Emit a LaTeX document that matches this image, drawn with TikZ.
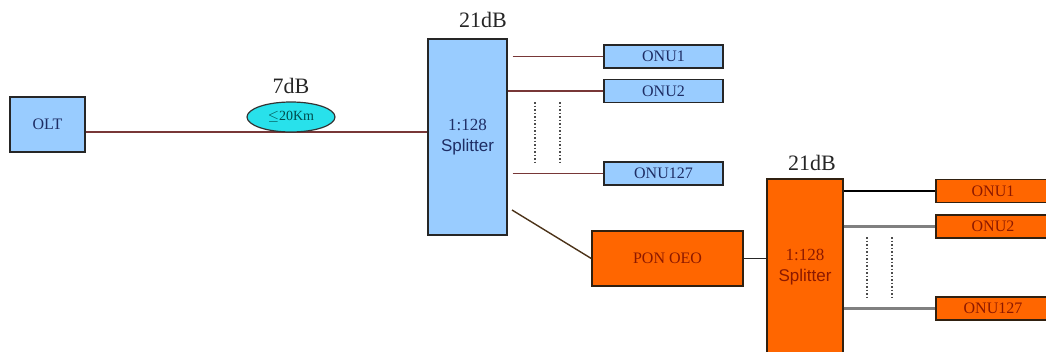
\documentclass[tikz,border=0pt]{standalone}
\usepackage{fontspec}
\setmainfont{Liberation Serif}
\setsansfont{Liberation Sans}
\usepackage{tikz}
\usetikzlibrary{positioning,shapes.geometric,calc}

\definecolor{boxblue}{RGB}{153,204,255}
\definecolor{txtblue}{RGB}{30,45,100}
\definecolor{boxorange}{RGB}{255,102,0}
\definecolor{txtred}{RGB}{140,25,0}
\definecolor{fibre}{RGB}{120,55,55}
\definecolor{cyanlink}{RGB}{40,225,235}

\tikzset{
  bluebox/.style={draw=black!85,line width=1.4pt,fill=boxblue,text=txtblue,inner sep=0pt},
  orgbox/.style={draw=black!75!brown,line width=1.4pt,fill=boxorange,text=txtred,inner sep=0pt},
  onutxt/.style={font=\fontsize{16}{17}\selectfont},
  spltxt/.style={align=center,font=\fontsize{17}{21}\selectfont},
  link/.style={draw=fibre,line width=1.6pt},
  graylink/.style={draw=gray,line width=2.2pt},
  gain/.style={font=\fontsize{22}{24}\selectfont,text=black!85},
  pointilles/.style={dotted,line width=1.5pt,black!70}
}

\begin{document}
\begin{tikzpicture}[x=1pt,y=-1pt]
    \useasboundingbox (0,0) rectangle (1046,351);

    % OLT
    \node[bluebox,minimum width=75pt,minimum height=55pt,onutxt] (olt) at (47.5,124.5) {OLT};

    % Premier coupleur
    \node[bluebox,minimum width=79pt,minimum height=196pt,spltxt] (spl1) at (467.5,137)
        {1:128\\\sffamily Splitter};
    \node[gain] (g1) at (483,20) {21dB};

    % ONU bleus
    \node[bluebox,minimum width=119pt,minimum height=23pt,onutxt] (onuA1) at (663.5,56.5) {ONU1};
    \node[bluebox,minimum width=119pt,minimum height=23pt,onutxt] (onuA2) at (663.5,91) {ONU2};
    \node[bluebox,minimum width=119pt,minimum height=23pt,onutxt] (onuA3) at (663.5,173.5) {ONU127};

    % Fibre principale
    \coordinate (tronc) at (0,132);
    \draw[link] (olt.east |- tronc) -- (spl1.west |- tronc);
    \node[ellipse,draw=black!80,line width=1.2pt,fill=cyanlink,minimum width=88pt,minimum height=30pt,
          inner sep=0pt,text=teal!60!black,font=\fontsize{14}{15}\selectfont] (dist) at (291,117) {$\leq$20Km};
    \node[gain] (g0) at (291,86) {7dB};

    % Branches bleues
    \draw[link] ([xshift=5pt]spl1.east |- onuA1) -- (onuA1.west);
    \draw[link] (spl1.east |- onuA2) -- (onuA2.west);
    \draw[link] ([xshift=5pt]spl1.east |- onuA3) -- (onuA3.west);
    \draw[pointilles] (535,102) -- (535,162);
    \draw[pointilles] (560,102) -- (560,162);

    % Regenerateur
    \node[orgbox,minimum width=151pt,minimum height=55pt,onutxt] (oeo) at (667.5,258.5) {PON OEO};
    \coordinate (depart) at (512,210);
    \draw[draw=black!60!brown,line width=1.4pt] (depart) -- (oeo.west);

    % Second coupleur
    \node[orgbox,minimum width=76pt,minimum height=176pt,spltxt] (spl2) at (805,267)
        {1:128\\\sffamily Splitter};
    \node[gain] (g2) at (812,163) {21dB};
    \draw[draw=black!85,line width=1.6pt] (oeo.east) -- (spl2.west |- oeo.east);

    % ONU orange
    \node[orgbox,minimum width=114pt,minimum height=23pt,onutxt] (onuB1) at (993,191) {ONU1};
    \node[orgbox,minimum width=114pt,minimum height=23pt,onutxt] (onuB2) at (993,226.5) {ONU2};
    \node[orgbox,minimum width=114pt,minimum height=23pt,onutxt] (onuB3) at (993,308.5) {ONU127};

    % Branches orange
    \draw[draw=black,line width=1.6pt] (spl2.east |- onuB1) -- (onuB1.west);
    \draw[graylink] (spl2.east |- onuB2) -- (onuB2.west);
    \draw[graylink] (spl2.east |- onuB3) -- (onuB3.west);
    \draw[pointilles] (867,237) -- (867,297);
    \draw[pointilles] (892,237) -- (892,297);
\end{tikzpicture}
\end{document}
